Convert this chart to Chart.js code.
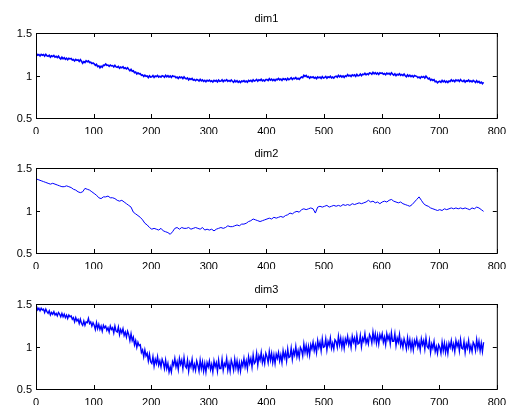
<!DOCTYPE html>
<html>
<head>
<meta charset="utf-8">
<script src="https://cdn.jsdelivr.net/npm/chart.js@4.4.1/dist/chart.umd.min.js"></script>
<style>
  html, body { margin: 0; padding: 0; background: #ffffff; }
  #wrap { position: relative; width: 513px; height: 408px; }
  #wrap canvas { position: absolute; left: 0; top: 0; }
</style>
</head>
<body>
<div id="wrap">
  <canvas id="c1" width="513" height="408"></canvas>
  <canvas id="c2" width="513" height="408"></canvas>
  <canvas id="c3" width="513" height="408"></canvas>
</div>
<script>
// sample indices: every 2nd sample (dim1, dim3) and every 4th sample (dim2)
const sampleX2 = Array.from({ length: 389 }, (_, i) => 1 + 2 * i);
const sampleX4 = Array.from({ length: 195 }, (_, i) => 1 + 4 * i);

const titles = ['dim1', 'dim2', 'dim3'];

const dim1 = [
  1.255,1.238,1.246,1.230,1.249,1.238,1.246,1.228,1.249,1.232,
  1.225,1.238,1.216,1.231,1.223,1.236,1.216,1.225,1.212,1.228,
  1.207,1.194,1.215,1.197,1.209,1.191,1.203,1.186,1.203,1.195,
  1.200,1.182,1.189,1.172,1.190,1.178,1.185,1.166,1.186,1.168,
  1.145,1.164,1.153,1.174,1.162,1.171,1.152,1.157,1.140,1.147,
  1.137,1.120,1.132,1.105,1.113,1.091,1.109,1.098,1.121,1.119,
  1.135,1.119,1.123,1.108,1.123,1.113,1.117,1.100,1.120,1.101,
  1.095,1.107,1.085,1.099,1.090,1.103,1.082,1.090,1.077,1.092,
  1.072,1.055,1.072,1.050,1.056,1.033,1.040,1.018,1.031,1.019,
  1.022,1.002,1.007,0.988,1.004,0.990,0.995,0.976,0.997,0.981,
  0.985,0.999,0.978,0.994,0.987,1.001,0.982,0.992,0.980,0.997,
  0.992,0.980,1.002,0.985,0.998,0.981,0.994,0.978,0.996,0.989,
  0.990,0.973,0.981,0.965,0.984,0.973,0.981,0.963,0.984,0.967,
  0.960,0.972,0.949,0.963,0.954,0.966,0.945,0.953,0.939,0.954,
  0.947,0.934,0.955,0.937,0.949,0.931,0.943,0.926,0.943,0.935,
  0.945,0.929,0.938,0.923,0.943,0.933,0.942,0.925,0.947,0.931,
  0.935,0.949,0.928,0.944,0.937,0.951,0.932,0.942,0.930,0.947,
  0.932,0.920,0.942,0.925,0.938,0.921,0.934,0.918,0.936,0.929,
  0.940,0.925,0.935,0.921,0.942,0.933,0.943,0.927,0.950,0.935,
  0.940,0.954,0.933,0.949,0.942,0.956,0.937,0.947,0.935,0.952,
  0.952,0.940,0.962,0.945,0.958,0.941,0.954,0.938,0.956,0.949,
  0.965,0.949,0.958,0.943,0.963,0.953,0.962,0.945,0.967,0.951,
  0.960,0.974,0.953,0.969,0.962,0.976,0.957,0.967,0.955,0.972,
  0.982,0.975,1.002,0.990,1.001,0.979,0.987,0.968,0.984,0.975,
  0.985,0.969,0.978,0.963,0.983,0.973,0.982,0.965,0.987,0.971,
  0.975,0.989,0.968,0.984,0.977,0.991,0.972,0.982,0.970,0.987,
  0.992,0.980,1.002,0.985,0.998,0.981,0.994,0.978,0.996,0.989,
  1.010,0.994,1.003,0.988,1.008,0.998,1.007,0.990,1.012,0.996,
  1.000,1.016,0.997,1.015,1.010,1.026,1.009,1.021,1.011,1.030,
  1.027,1.015,1.037,1.020,1.033,1.016,1.029,1.013,1.031,1.024,
  1.030,1.014,1.023,1.008,1.028,1.018,1.027,1.010,1.032,1.016,
  1.005,1.019,0.998,1.014,1.007,1.021,1.002,1.012,1.000,1.017,
  0.997,0.985,1.007,0.990,1.003,0.986,0.999,0.983,1.001,0.994,
  0.990,0.974,0.983,0.968,0.988,0.978,0.987,0.970,0.992,0.976,
  0.960,0.969,0.943,0.954,0.942,0.951,0.927,0.932,0.915,0.927,
  0.932,0.920,0.942,0.925,0.938,0.921,0.934,0.918,0.936,0.929,
  0.950,0.934,0.943,0.928,0.948,0.938,0.947,0.930,0.952,0.936,
  0.930,0.944,0.923,0.939,0.932,0.946,0.927,0.937,0.925,0.942,
  0.932,0.918,0.938,0.919,0.930,0.911,0.922,0.904,0.921
];

const dim2 = [
  1.37,1.36,1.35,1.34,1.33, 1.32,1.31,1.32,1.31,1.30, 1.29,1.28,1.28,1.29,1.28,
  1.27,1.25,1.24,1.22,1.21, 1.22,1.26,1.25,1.24,1.22, 1.20,1.18,1.15,1.14,1.16,
  1.16,1.17,1.15,1.15,1.14, 1.12,1.11,1.12,1.10,1.08, 1.06,1.04,0.98,0.96,0.94,
  0.92,0.89,0.85,0.83,0.80, 0.78,0.79,0.78,0.77,0.79, 0.76,0.75,0.74,0.72,0.75,
  0.79,0.80,0.78,0.80,0.79, 0.79,0.80,0.78,0.79,0.80, 0.79,0.78,0.80,0.77,0.78,
  0.77,0.78,0.76,0.78,0.79, 0.80,0.79,0.80,0.82,0.81, 0.81,0.82,0.83,0.82,0.84,
  0.84,0.85,0.87,0.88,0.90, 0.89,0.88,0.87,0.88,0.89, 0.90,0.91,0.90,0.92,0.91,
  0.92,0.93,0.92,0.94,0.95, 0.97,0.96,0.98,0.99,0.98, 1.01,1.02,1.01,1.02,1.03,
  1.02,0.97,1.04,1.05,1.04, 1.05,1.06,1.04,1.05,1.06, 1.05,1.06,1.05,1.07,1.06,
  1.07,1.06,1.08,1.07,1.08, 1.09,1.08,1.09,1.10,1.12, 1.10,1.11,1.09,1.10,1.08,
  1.10,1.11,1.10,1.12,1.13, 1.11,1.10,1.09,1.10,1.08, 1.07,1.06,1.05,1.07,1.10,
  1.13,1.16,1.12,1.08,1.06, 1.05,1.03,1.02,1.01,1.00, 1.01,1.00,1.02,1.01,1.02,
  1.03,1.02,1.03,1.02,1.03, 1.02,1.03,1.02,1.01,1.03, 1.02,1.04,1.03,1.01,0.99
];

const dim3 = [
  1.47,1.43,1.45,1.42,1.45,1.43,1.44,1.40,1.44,1.41,
  1.39,1.42,1.37,1.40,1.38,1.41,1.37,1.39,1.36,1.40,
  1.38,1.35,1.39,1.35,1.38,1.34,1.37,1.33,1.37,1.35,
  1.36,1.32,1.34,1.29,1.34,1.30,1.32,1.27,1.32,1.27,
  1.25,1.30,1.25,1.29,1.28,1.33,1.27,1.29,1.24,1.28,
  1.25,1.20,1.28,1.21,1.26,1.20,1.24,1.18,1.25,1.22,
  1.24,1.19,1.22,1.17,1.24,1.20,1.22,1.16,1.24,1.18,
  1.17,1.23,1.14,1.20,1.16,1.21,1.13,1.17,1.11,1.18,
  1.14,1.07,1.15,1.07,1.11,1.02,1.07,0.99,1.05,1.01,
  1.02,0.93,0.96,0.88,0.96,0.89,0.92,0.83,0.91,0.82,
  0.80,0.88,0.77,0.85,0.80,0.88,0.78,0.83,0.76,0.85,
  0.81,0.74,0.84,0.74,0.80,0.70,0.76,0.70,0.82,0.78,
  0.86,0.76,0.82,0.73,0.86,0.79,0.84,0.74,0.87,0.77,
  0.75,0.84,0.71,0.81,0.76,0.85,0.73,0.79,0.72,0.83,
  0.78,0.71,0.84,0.74,0.82,0.71,0.80,0.70,0.81,0.76,
  0.83,0.73,0.79,0.70,0.83,0.76,0.81,0.71,0.84,0.74,
  0.74,0.85,0.72,0.80,0.77,0.86,0.72,0.80,0.71,0.84,
  0.79,0.72,0.85,0.75,0.83,0.72,0.81,0.71,0.82,0.77,
  0.86,0.76,0.83,0.74,0.88,0.80,0.86,0.76,0.90,0.80,
  0.82,0.92,0.78,0.89,0.84,0.93,0.81,0.88,0.80,0.92,
  0.88,0.81,0.94,0.84,0.92,0.81,0.90,0.80,0.91,0.86,
  0.93,0.83,0.90,0.81,0.95,0.87,0.93,0.83,0.97,0.87,
  0.88,0.98,0.85,0.95,0.90,1.00,0.88,0.95,0.87,0.99,
  0.96,0.89,1.03,0.93,1.01,0.91,1.00,0.90,1.02,0.97,
  1.05,0.95,1.02,0.93,1.07,0.99,1.05,0.95,1.09,0.99,
  1.00,1.09,0.96,1.06,1.01,1.10,0.98,1.04,0.97,1.08,
  1.06,0.99,1.12,1.02,1.10,0.99,1.08,0.98,1.09,1.04,
  1.12,1.02,1.08,0.99,1.12,1.05,1.10,1.00,1.13,1.03,
  1.04,1.13,1.00,1.10,1.06,1.15,1.04,1.09,1.03,1.14,
  1.11,1.04,1.17,1.07,1.15,1.04,1.13,1.03,1.14,1.09,
  1.15,1.05,1.11,1.02,1.15,1.08,1.13,1.03,1.16,1.06,
  1.06,1.15,1.01,1.10,1.05,1.14,1.01,1.07,0.99,1.09,
  1.04,0.97,1.10,1.00,1.08,0.97,1.06,0.96,1.07,1.02,
  1.09,0.99,1.05,0.96,1.09,1.02,1.07,0.97,1.10,1.00,
  0.98,1.07,0.93,1.03,0.98,1.06,0.94,1.00,0.92,1.02,
  0.99,0.92,1.05,0.95,1.04,0.93,1.02,0.92,1.04,0.99,
  1.07,0.97,1.03,0.94,1.07,1.00,1.05,0.95,1.08,0.98,
  0.97,1.06,0.93,1.03,0.98,1.07,0.95,1.01,0.94,1.05,
  1.02,0.95,1.08,0.98,1.06,0.95,1.04,0.94,1.05
];

const series = [dim1, dim2, dim3];
const seriesX = [sampleX2, sampleX4, sampleX2];
const lineWidths = [1.6, 1, 1.4];

// plot box top/bottom for each subplot (pixels)
const boxTop = [33, 168, 304];
const boxBottom = [118, 253, 389];
const X_AXIS_H = 16;
const Y_AXIS_W = 36;
const FONT = '"Liberation Sans", Arial, Helvetica, sans-serif';

// MATLAB-like box with inward ticks on all four sides, plus the title
const matlabBox = {
  id: 'matlabBox',
  afterDraw(chart, args, opts) {
    const { ctx, chartArea: a, scales } = chart;
    const tl = 4;
    ctx.save();
    ctx.strokeStyle = '#000000';
    ctx.lineWidth = 1;
    ctx.strokeRect(a.left + 0.5, a.top + 0.5, a.right - a.left, a.bottom - a.top);
    ctx.beginPath();
    scales.x.ticks.forEach(t => {
      const px = Math.round(scales.x.getPixelForValue(t.value)) + 0.5;
      ctx.moveTo(px, a.bottom); ctx.lineTo(px, a.bottom - tl);
      ctx.moveTo(px, a.top); ctx.lineTo(px, a.top + tl);
    });
    scales.y.ticks.forEach(t => {
      const py = Math.round(scales.y.getPixelForValue(t.value)) + 0.5;
      ctx.moveTo(a.left, py); ctx.lineTo(a.left + tl, py);
      ctx.moveTo(a.right, py); ctx.lineTo(a.right - tl, py);
    });
    ctx.stroke();
    ctx.fillStyle = '#000000';
    ctx.font = '11px ' + FONT;
    ctx.textAlign = 'center';
    ctx.textBaseline = 'alphabetic';
    ctx.fillText(opts.title, (a.left + a.right) / 2, a.top - 11);
    ctx.restore();
  }
};

series.forEach((ys, i) => {
  const el = document.getElementById('c' + (i + 1));
  const xs = seriesX[i];
  new Chart(el, {
    type: 'line',
    data: {
      datasets: [{
        data: xs.map((x, k) => ({ x: x, y: ys[k] })),
        borderColor: '#0000ff',
        borderWidth: lineWidths[i],
        pointRadius: 0,
        tension: 0,
        fill: false
      }]
    },
    options: {
      responsive: false,
      animation: false,
      devicePixelRatio: 1,
      layout: {
        padding: { left: 0, right: 10, top: boxTop[i], bottom: 408 - boxBottom[i] - X_AXIS_H }
      },
      plugins: {
        legend: { display: false },
        tooltip: { enabled: false },
        matlabBox: { title: titles[i] }
      },
      scales: {
        x: {
          type: 'linear',
          min: 0,
          max: 800,
          grid: { display: false, drawTicks: false },
          border: { display: false },
          ticks: { stepSize: 100, color: '#000000', padding: 7, maxRotation: 0,
                   font: { family: FONT, size: 11 } },
          afterFit: s => { s.height = X_AXIS_H; }
        },
        y: {
          min: 0.5,
          max: 1.5,
          grid: { display: false, drawTicks: false },
          border: { display: false },
          ticks: { stepSize: 0.5, color: '#000000', padding: 4, labelOffset: 1,
                   callback: v => String(v),
                   font: { family: FONT, size: 11 } },
          afterFit: s => { s.width = Y_AXIS_W; }
        }
      }
    },
    plugins: [matlabBox]
  });
});
</script>
</body>
</html>
